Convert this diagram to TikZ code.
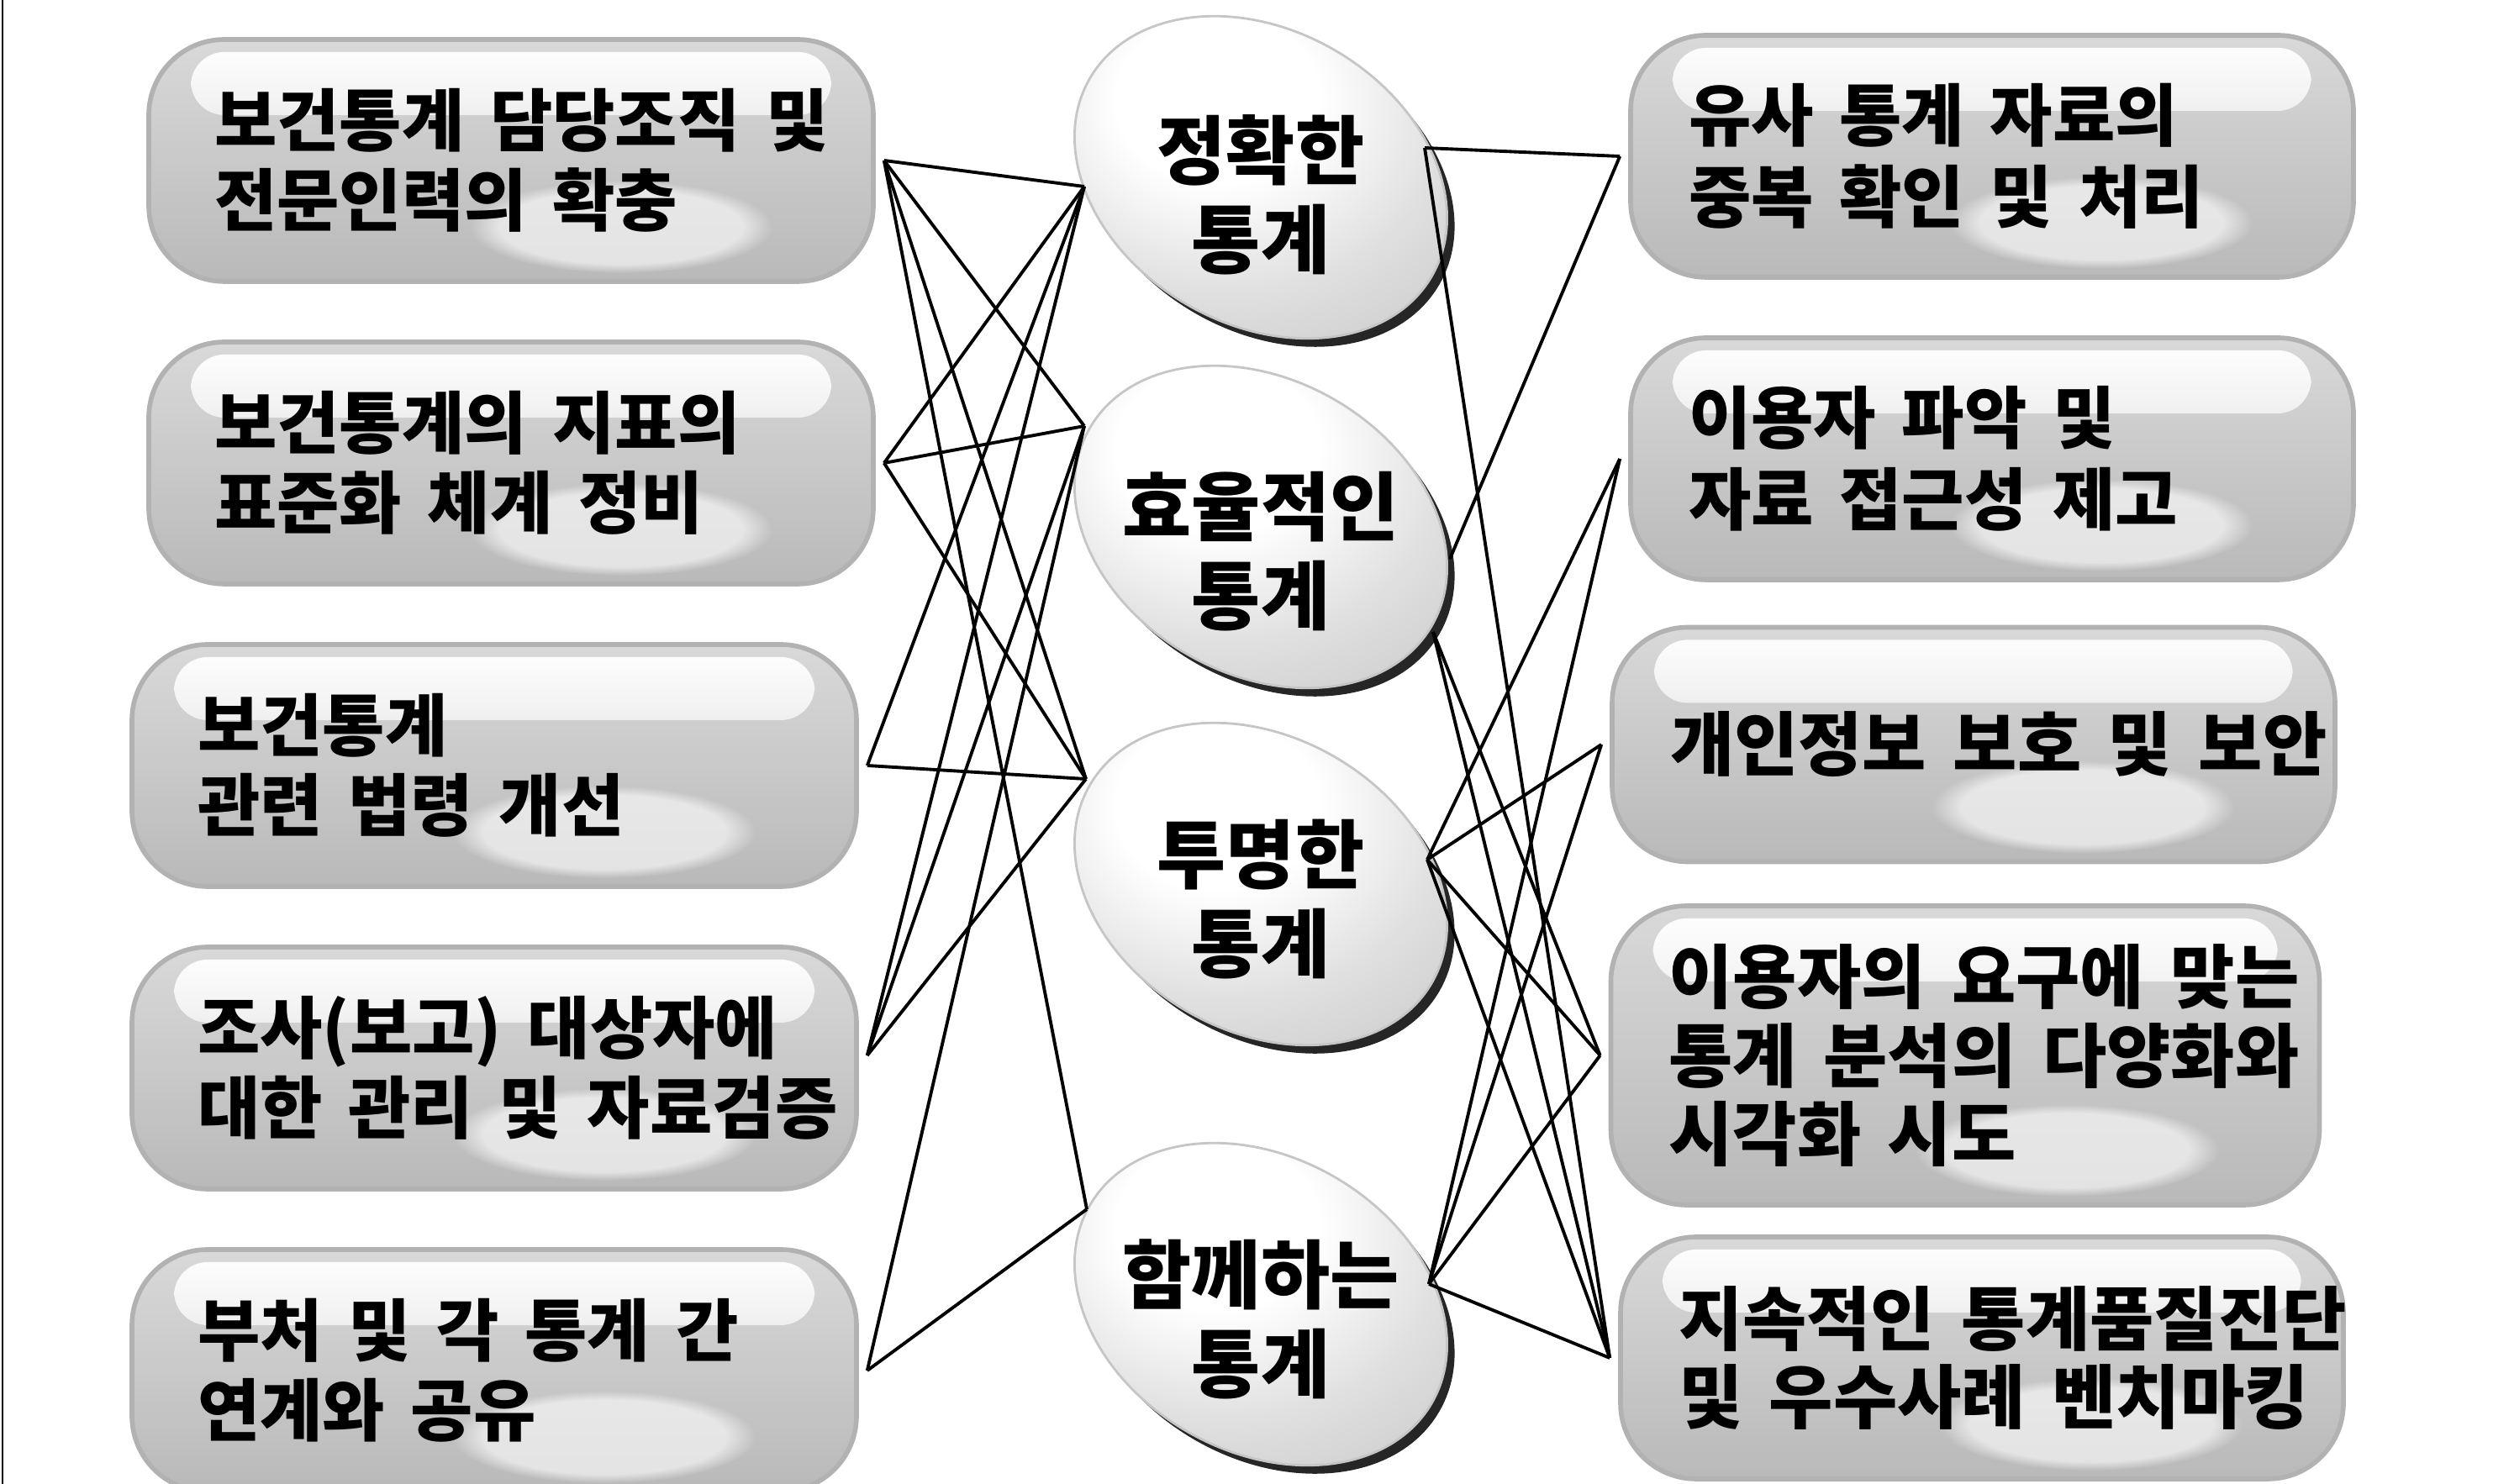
\documentclass[tikz,border=0pt]{standalone}
\usepackage{fontspec}
\usepackage{tikz}
\usetikzlibrary{positioning, fadings}
\newfontfamily\krfont{Noto Sans CJK KR}
\pgfdeclareradialshading{blobglow}{\pgfpoint{-6bp}{12bp}}{color(0bp)=(white); color(12bp)=(white); color(26bp)=(gray!25); color(40bp)=(gray!42); color(80bp)=(gray!52)}
\tikzset{
    node distance=3.6cm, % centre to centre distance between boxes of one column
    pill/.style={draw=gray!60, line width=1.6pt, rounded corners=0.9cm,
        top color=gray!30, bottom color=gray!55, minimum height=2.88cm,
        align=left, execute at begin node={\rightskip=-2cm plus 1fil\spaceskip=0.38em plus 0.1em},
        path picture={
            \fill[white, rounded corners=0.4cm, path fading=south]
                ([xshift=0.5cm,yshift=-0.15cm]path picture bounding box.north west)
                rectangle ([xshift=-0.5cm,yshift=-0.9cm]path picture bounding box.north east);
            \fill[white, opacity=0.6, path fading=circle with fuzzy edge 20 percent]
                ([xshift=-3cm,yshift=0.65cm]path picture bounding box.south east) ellipse (1.8cm and 0.55cm);
        }}, % grey button with a light band along the top
    lbox/.style={pill, minimum width=8.62cm, inner xsep=0.78cm, text width=7.06cm,
        font=\krfont\bfseries\fontsize{23pt}{27pt}\selectfont},
    rbox/.style={pill, minimum width=8.6cm, inner xsep=0.69cm, text width=7.22cm,
        font=\krfont\bfseries\fontsize{23pt}{27.6pt}\selectfont},
    wbox/.style={rbox, font=\krfont\bfseries\fontsize{23.6pt}{26.5pt}\selectfont},
    rim/.style={fill=black!85}, % dark edge under the ovals
    blob/.style={shading=blobglow, draw=gray!45, line width=0.8pt},
    goal/.style={align=center, font=\krfont\bfseries\fontsize{25.4pt}{30pt}\selectfont},
    every edge/.style={draw, line width=1.1pt},
}
\begin{document}
\begin{tikzpicture}
\useasboundingbox (0,0) rectangle (29.66,17.66);
\draw[line width=0.7pt] (0.03,0) -- (0.03,17.66);
% ovals in the middle
\fill[rim, rotate around={-30:(15.09,15.45)}] (15.09,15.45) ellipse (2.35 and 1.75);
\shade[blob, rotate around={-30:(15,15.55)}] (15,15.55) ellipse (2.35 and 1.75);
\fill[rim, rotate around={-30:(15.09,11.29)}] (15.09,11.29) ellipse (2.35 and 1.75);
\shade[blob, rotate around={-30:(15,11.39)}] (15,11.39) ellipse (2.35 and 1.75);
\fill[rim, rotate around={-30:(15.09,7.04)}] (15.09,7.04) ellipse (2.35 and 1.75);
\shade[blob, rotate around={-30:(15,7.14)}] (15,7.14) ellipse (2.35 and 1.75);
\fill[rim, rotate around={-30:(15.09,2.04)}] (15.09,2.04) ellipse (2.35 and 1.75);
\shade[blob, rotate around={-30:(15,2.14)}] (15,2.14) ellipse (2.35 and 1.75);
\node[goal] (m1) at (15,15.34) {정확한\\통계};
\node[goal] (m2) at (15,11.10) {효율적인\\통계};
\node[goal] (m3) at (15,6.96) {투명한\\통계};
\node[goal] (m4) at (15,1.96) {함께하는\\통계};
\coordinate (m1w) at (12.90,15.44);
\coordinate (m1e) at (16.95,15.90);
\coordinate (m2w) at (12.90,12.59);
\coordinate (m2e) at (17.25,11.01);
\coordinate (m2s) at (17.05,10.14);
\coordinate (m3w) at (12.92,8.39);
\coordinate (m3e) at (16.98,7.43);
\coordinate (m4w) at (12.93,3.27);
\coordinate (m4e) at (17.00,2.38);
% left column
\node[lbox] (l1) at (6.08,15.75) {보건통계 담당조직 및\\전문인력의 확충};
\node[lbox, below of=l1] (l2) {보건통계의 지표의\\표준화 체계 정비};
\node[lbox, below of=l2, xshift=-2mm] (l3) {보건통계\\관련 법령 개선};
\node[lbox, below of=l3] (l4) {조사(보고) 대상자에\\대한 관리 및 자료검증};
\node[lbox, below of=l4] (l5) {부처 및 각 통계 간\\연계와 공유};
% right column
\node[rbox] (r1) at (23.70,15.80) {유사 통계 자료의\\중복 확인 및 처리};
\node[rbox, below of=r1] (r2) {이용자 파악 및\\자료 접근성 제고};
\node[wbox, below of=r2, xshift=-2.2mm, yshift=2mm, minimum height=2.79cm] (r3) {개인정보 보호 및 보안};
\node[wbox, below of=r3, xshift=-1mm, yshift=-1mm, minimum width=8.43cm, text width=7.05cm, minimum height=3.56cm] (r4) {이용자의 요구에 맞는\\통계 분석의 다양화와\\시각화 시도};
\node[wbox, below of=r4, xshift=2mm] (r5) {지속적인 통계품질진단\\및 우수사례 벤치마킹};
% connectors
\draw ([xshift=1mm]l1.east) edge (m1w) edge (m2w) edge (m3w) edge (m4w)
      ([xshift=1mm]l2.east) edge (m1w) edge (m2w) edge (m3w)
      ([xshift=1mm]l3.east) edge (m1w) edge (m3w)
      ([xshift=1mm,yshift=1.5mm]l4.east) edge (m1w) edge (m2w) edge (m3w)
      ([xshift=1mm]l5.east) edge (m2w) edge (m4w);
\draw (m1e) edge ([xshift=-1mm]r1.west) edge ([xshift=-1mm]r5.west)
      (m2e) edge ([xshift=-1mm]r1.west)
      (m2s) edge ([xshift=-1mm]r4.west) edge ([xshift=-1mm]r5.west)
      (m3e) edge ([xshift=-1mm]r2.west) edge ([xshift=-1mm]r3.west) edge ([xshift=-1mm]r4.west) edge ([xshift=-1mm]r5.west)
      (m4e) edge ([xshift=-1mm]r2.west) edge ([xshift=-1mm]r3.west) edge ([xshift=-1mm]r4.west) edge ([xshift=-1mm]r5.west);
\end{tikzpicture}
\end{document}
